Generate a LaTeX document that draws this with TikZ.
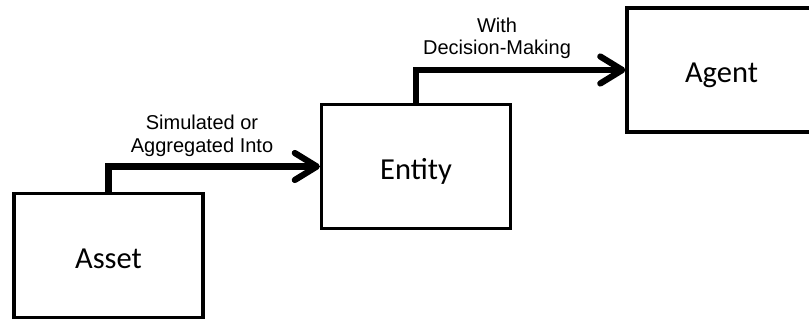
\documentclass[tikz,border=0pt]{standalone}
\usepackage{fontspec}
\setmainfont{Carlito}
\newfontfamily\flowfont{Liberation Sans}
\usetikzlibrary{arrows.meta}
\begin{document}
\begin{tikzpicture}[x=1pt,y=1pt,
  stagebox/.style={draw=black, line width=3.2pt, minimum width=189pt,
    minimum height=124pt, inner sep=0pt},
  stagetext/.style={anchor=base, inner sep=0pt,
    font=\fontsize{30.5}{36}\selectfont},
  flow/.style={line width=6.2pt, line join=miter,
    -{Straight Barb[length=22pt, width=27pt, line cap=round, line join=round]}},
  flowlabel/.style={align=center, inner sep=0pt,
    font=\flowfont\fontsize{20}{22.5}\selectfont}]
\useasboundingbox (0,0) rectangle (809,-320);

% the three stages
\node[stagebox] (asset)  at (108.5,-255.5) {};
\node[stagebox] (entity) at (416,-166.5) {};
\node[stagebox] (agent)  at (721.5,-70) {};

\node[stagetext] (assettxt)  at ([yshift=-12.7pt]asset.center)  {Asset};
\node[stagetext] (entitytxt) at ([yshift=-12.7pt]entity.center) {Entity};
\node[stagetext] (agenttxt)  at ([yshift=-12.7pt]agent.center)  {Agent};

% stepped connectors between stages
\draw[flow] (asset.north) |- (entity.west);
\draw[flow] (entity.north) |- (agent.west);

% connector captions
\node[flowlabel] (simlabel) at (202,-136) {Simulated or\\Aggregated Into};
\node[flowlabel] (declabel) at (497,-38.5) {With\\Decision-Making};
\end{tikzpicture}
\end{document}
